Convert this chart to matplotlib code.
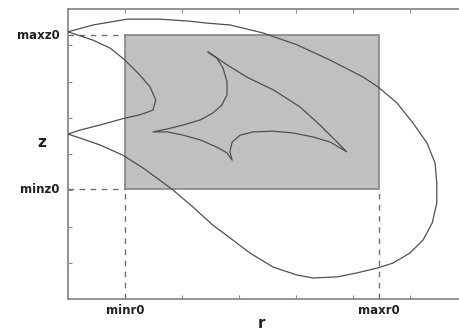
import matplotlib
matplotlib.use("Agg")
import matplotlib.pyplot as plt
from matplotlib.patches import Rectangle
import matplotlib.transforms as mtransforms

# region bounds (axis units)
minr0, maxr0 = 1.0, 5.46
minz0, maxz0 = 3.03, 7.28

# outer curve: from the axis near the top, clockwise round to the axis below
outer_r = [0.00, 0.44, 0.74, 1.04, 1.61, 2.09, 2.44, 2.84, 3.42, 4.02, 4.60,
           5.18, 5.44, 5.77, 6.05, 6.30, 6.44, 6.47, 6.47, 6.39, 6.23, 6.00,
           5.70, 5.44, 5.07, 4.72, 4.30, 4.02, 3.60, 3.19, 2.89, 2.54, 2.19,
           1.84, 1.61, 1.32, 0.96, 0.56, 0.21, 0.00]
outer_z = [7.37, 7.56, 7.64, 7.72, 7.72, 7.67, 7.61, 7.56, 7.34, 7.01, 6.59,
           6.12, 5.85, 5.41, 4.86, 4.30, 3.75, 3.20, 2.65, 2.10, 1.63, 1.27,
           0.99, 0.86, 0.72, 0.61, 0.58, 0.66, 0.88, 1.27, 1.63, 2.04, 2.54,
           3.01, 3.28, 3.61, 3.97, 4.25, 4.44, 4.55]

# inner bulge joining the same two axis points
bulge_r = [0.00, 0.44, 0.74, 1.00, 1.26, 1.44, 1.54, 1.49, 1.26, 1.00, 0.56,
           0.21, 0.00]
bulge_z = [7.37, 7.14, 6.92, 6.59, 6.18, 5.85, 5.49, 5.21, 5.08, 4.99, 4.80,
           4.66, 4.55]

# cusped shape inside the region
cusp_r = [2.46, 2.61, 2.72, 2.79, 2.79, 2.70, 2.54, 2.32, 2.02, 1.74, 1.49,
          1.74, 2.02, 2.32, 2.61, 2.79, 2.88, 2.84, 2.88, 3.02, 3.25, 3.60,
          3.95, 4.30, 4.60, 4.89, 4.72, 4.42, 4.07, 3.60, 3.14, 2.79, 2.46]
cusp_z = [6.81, 6.65, 6.37, 5.99, 5.63, 5.35, 5.13, 4.94, 4.80, 4.69, 4.61,
          4.61, 4.52, 4.39, 4.19, 4.03, 3.83, 4.06, 4.33, 4.52, 4.61, 4.63,
          4.58, 4.47, 4.33, 4.06, 4.33, 4.80, 5.30, 5.77, 6.12, 6.46, 6.81]

fig = plt.figure(figsize=(4.59, 3.31), dpi=100)
ax = fig.add_axes([68 / 459, 32 / 331, 391 / 459, 290 / 331])
ax.set_xlim(0, 391 / 57)
ax.set_ylim(0, 8)

ax.add_patch(Rectangle((minr0, minz0), maxr0 - minr0, maxz0 - minz0,
                       facecolor="#c0c0c0", edgecolor="#858585", lw=1.2, zorder=1))

dash = dict(color="#707070", lw=1.0, ls=(0, (4, 4)), zorder=2)
ax.plot([0, minr0], [maxz0, maxz0], **dash)
ax.plot([0, minr0], [minz0, minz0], **dash)
ax.plot([minr0, minr0], [0, minz0], **dash)
ax.plot([maxr0, maxr0], [0, minz0], **dash)

line = dict(color="#505050", lw=0.9, zorder=3)
ax.plot(outer_r, outer_z, **line)
ax.plot(bulge_r, bulge_z, **line)
ax.plot(cusp_r, cusp_z, **line)

for side in ["left", "top", "bottom"]:
    ax.spines[side].set_color("#8a8a8a")
    ax.spines[side].set_linewidth(1.3)
ax.spines["right"].set_visible(False)

ax.set_xticks(range(1, 7))
ax.set_yticks(range(1, 8))
ax.tick_params(direction="in", length=3, color="#8a8a8a", top=True,
               labelbottom=False, labelleft=False)

fnt = dict(family="DejaVu Sans", weight="bold", color="#222222")
ty = mtransforms.blended_transform_factory(ax.transAxes, ax.transData)
tx = mtransforms.blended_transform_factory(ax.transData, ax.transAxes)
ax.text(-0.022, maxz0, "maxz0", transform=ty, ha="right", va="center", fontsize=8.5, **fnt)
ax.text(-0.022, minz0, "minz0", transform=ty, ha="right", va="center", fontsize=8.5, **fnt)
ax.text(-0.066, 4.33, "z", transform=ty, ha="center", va="center", fontsize=11, **fnt)
ax.text(minr0, -0.04, "minr0", transform=tx, ha="center", va="center", fontsize=8.5, **fnt)
ax.text(maxr0, -0.04, "maxr0", transform=tx, ha="center", va="center", fontsize=8.5, **fnt)
ax.text(3.4, -0.085, "r", transform=tx, ha="center", va="center", fontsize=11, **fnt)

fig.savefig("out.png", dpi=100)
